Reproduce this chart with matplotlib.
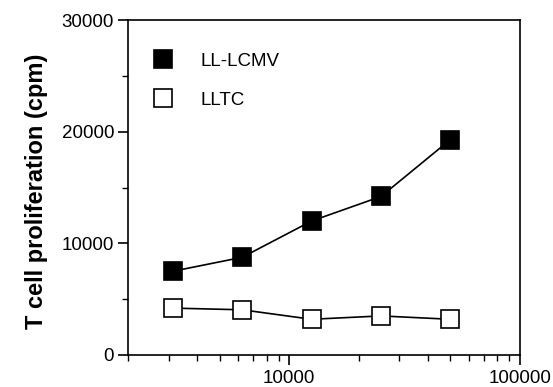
import matplotlib
matplotlib.use("Agg")
import matplotlib.pyplot as plt
from matplotlib.ticker import LogLocator, FixedLocator, NullFormatter

plt.rcParams['font.family'] = ['Liberation Sans', 'DejaVu Sans']

cells = [3125, 6250, 12500, 25000, 50000]
ll_lcmv = [7500, 8750, 12000, 14200, 19300]
lltc = [4200, 4050, 3200, 3500, 3200]
series_names = ["LL-LCMV", "LLTC"]
y_ticks = [0, 10000, 20000, 30000]
x_tick_labels = ["10000", "100000"]

fig = plt.figure(figsize=(5.53, 3.87), dpi=100)
ax = fig.add_axes([0.2315, 0.0827, 0.7085, 0.8653])

l1, = ax.plot(cells, ll_lcmv, '-', color='black', lw=1.2, marker='s', ms=13,
              mfc='black', mec='black', mew=1.2, label=series_names[0])
l2, = ax.plot(cells, lltc, '-', color='black', lw=1.2, marker='s', ms=13,
              mfc='white', mec='black', mew=1.2, label=series_names[1])

ax.set_xscale('log')
ax.set_xlim(2000, 100000)
ax.set_ylim(0, 30000)
ax.xaxis.set_major_locator(FixedLocator([10000, 100000]))
ax.set_xticklabels(x_tick_labels)
ax.xaxis.set_minor_locator(LogLocator(base=10, subs=range(2, 10)))
ax.xaxis.set_minor_formatter(NullFormatter())
ax.set_yticks(y_ticks)
ax.set_yticklabels([str(v) for v in y_ticks])
ax.yaxis.set_minor_locator(FixedLocator([5000, 15000, 25000]))

ax.tick_params(axis='both', which='major', direction='out', length=7, width=1.2,
               labelsize=13.5, top=False, right=False)
ax.tick_params(axis='both', which='minor', direction='out', length=4, width=1.0,
               top=False, right=False)
ax.tick_params(axis='x', pad=3.5)
ax.tick_params(axis='y', pad=3)
for s in ax.spines.values():
    s.set_linewidth(1.2)

ax.set_ylabel("T cell proliferation (cpm)", fontsize=17, fontweight='bold')
ax.yaxis.set_label_coords(-0.205, 0.49)

leg = ax.legend(handles=[l1, l2], loc='upper left', bbox_to_anchor=(0.07, 0.925),
                frameon=False, fontsize=13.5, handlelength=0, handletextpad=2.0,
                labelspacing=1.15, markerscale=1.0, borderaxespad=0)
for h in leg.legend_handles:
    h.set_linestyle('none')

fig.savefig("out.png", dpi=100)
